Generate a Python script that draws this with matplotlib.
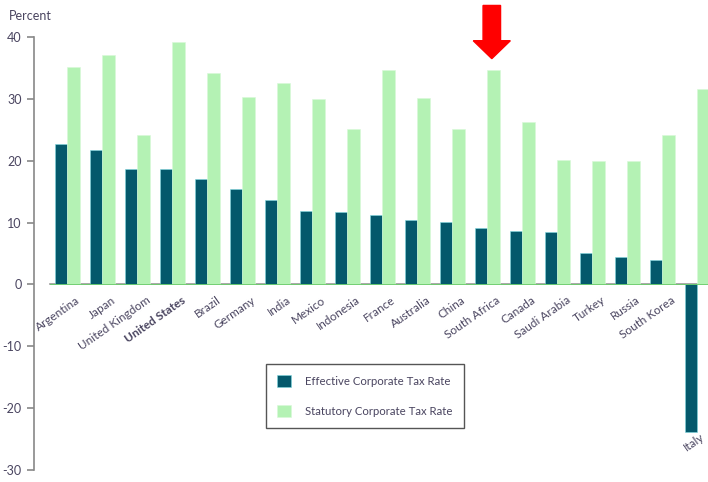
import numpy as np
import matplotlib.pyplot as plt
from matplotlib.patches import FancyArrow

countries = ["Argentina", "Japan", "United Kingdom", "United States", "Brazil",
             "Germany", "India", "Mexico", "Indonesia", "France", "Australia",
             "China", "South Africa", "Canada", "Saudi Arabia", "Turkey",
             "Russia", "South Korea", "Italy"]
effective = [22.7, 21.7, 18.7, 18.7, 17.0, 15.5, 13.6, 11.9, 11.7, 11.2, 10.4,
             10.1, 9.1, 8.6, 8.4, 5.1, 4.4, 4.0, -23.8]
statutory = [35.1, 37.1, 24.1, 39.2, 34.1, 30.3, 32.6, 30.0, 25.1, 34.6, 30.1,
             25.1, 34.7, 26.2, 20.1, 20.0, 20.0, 24.2, 31.6]
yticks = [-30, -20, -10, 0, 10, 20, 30, 40]

dark = "#04596c"
light = "#b4f2b4"
txt = "#4a4560"

plt.rcParams['font.family'] = ['Lato', 'DejaVu Sans']

fig = plt.figure(figsize=(7.08, 4.82), dpi=100)
W, H = 708, 482
# axes: left spine at x=34px, y from 37px (40) to 470px (-30); 35px per group
ax = fig.add_axes([34 / W, (H - 470) / H, 19.55 * 35 / W, 433 / H])

x = np.arange(len(countries))
bw = 0.36
ax.bar(x - bw / 2, effective, bw, color=dark, edgecolor="#7fd8e0", linewidth=0.4,
       label="Effective Corporate Tax Rate", zorder=3)
ax.bar(x + bw / 2, statutory, bw, color=light, edgecolor="#d8f8d8", linewidth=0.4,
       label="Statutory Corporate Tax Rate", zorder=3)

ax.plot([-0.5, len(countries)], [0, 0], color="#999999", lw=1.2, zorder=2)
ax.plot([-0.5, len(countries)], [0, 0], color="#66cc66", lw=0.6, zorder=4)

ax.set_xlim(-0.95, 18.6)
ax.set_ylim(-30, 40)
ax.set_yticks(yticks)
ax.set_yticklabels([str(t) for t in yticks], color=txt, fontsize=9)
ax.set_xticks([])
for s in ["top", "right", "bottom"]:
    ax.spines[s].set_visible(False)
ax.spines["left"].set_color("#888888")
ax.spines["left"].set_linewidth(1.2)
ax.tick_params(axis="y", length=5, width=1.2, color="#888888", pad=4)

for i, c in enumerate(countries):
    if effective[i] < 0:
        # label sits below the negative bar
        ax.text(i - 0.27, effective[i] - 3.5, c, rotation=35,
                rotation_mode="anchor", ha="left", va="bottom", fontsize=8.5,
                color=txt, clip_on=False)
        continue
    ax.text(i + 0.25, -1.6, c, rotation=35, rotation_mode="anchor",
            ha="right", va="top", fontsize=8.5, color=txt,
            fontweight="bold" if c == "United States" else "normal",
            clip_on=False)

fig.text(9 / W, 1 - 16 / H, "Percent", fontsize=9, color=txt, va="center")

leg = ax.legend(loc="upper left", bbox_to_anchor=(266 / W, 1 - 364 / H),
                bbox_transform=fig.transFigure, borderaxespad=0, fancybox=False,
                edgecolor="#555555", fontsize=8.2, labelspacing=1.6,
                handlelength=1.2, handleheight=1.2, handletextpad=1.2,
                borderpad=1.0, framealpha=1)
leg.get_frame().set_linewidth(1.0)
for t in leg.get_texts():
    t.set_color(txt)

# red arrow above South Africa
sa = countries.index("South Africa")
arr = FancyArrow(sa + 0.13, 45.1, 0, -8.6, width=0.5, head_width=1.06,
                 head_length=2.9, length_includes_head=True,
                 color="#ff0000", clip_on=False, zorder=5)
ax.add_patch(arr)

fig.savefig("out.png", dpi=100)
